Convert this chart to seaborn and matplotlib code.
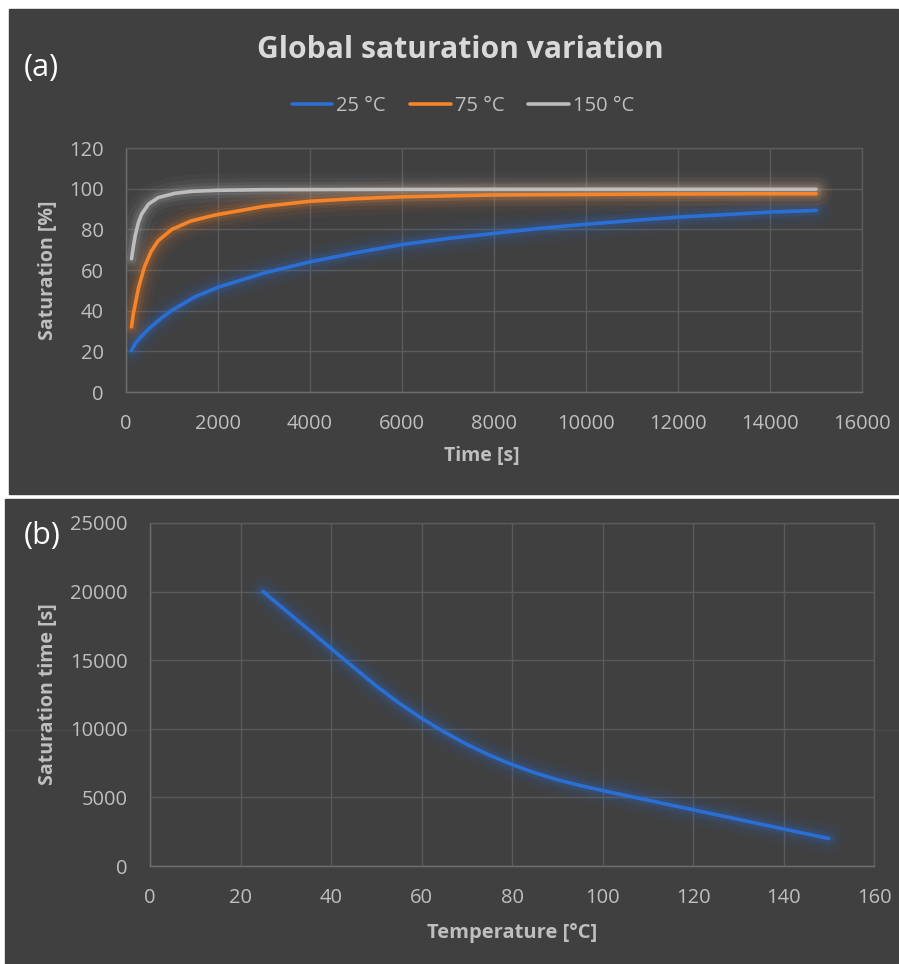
import pandas as pd
import numpy as np
import seaborn as sns
import matplotlib.pyplot as plt
from matplotlib.patches import Rectangle
from matplotlib.lines import Line2D

# (a) saturation vs time
time_25 = [120, 200, 300, 500, 750, 1000, 1500, 2000, 3000, 4000, 5000, 6000, 7000, 8000,
           9000, 10000, 11000, 12000, 13000, 14000, 15000]
sat_25 = [20.5, 23.8, 26.5, 31.2, 36, 40.2, 46.8, 51.5, 58.5, 64, 68.5, 72.5, 75.5, 78,
          80.5, 82.5, 84.3, 86, 87.2, 88.5, 89.3]

time_75 = [120, 160, 200, 270, 400, 550, 700, 1000, 1400, 1800, 2000, 3000, 4000, 5000,
           6000, 8000, 10000, 12000, 14000, 15000]
sat_75 = [32, 38.5, 43, 51, 61.5, 69.3, 74.4, 80, 84, 86.3, 87.3, 91.3, 93.8, 95.1,
          96, 96.9, 97.2, 97.4, 97.5, 97.5]

time_150 = [120, 140, 160, 200, 270, 340, 490, 700, 1060, 1430, 2000, 3000, 5000, 8000, 15000]
sat_150 = [65.5, 68.5, 71.5, 76.9, 83.4, 87.5, 92.4, 95.6, 97.7, 98.7, 99.2, 99.5, 99.6, 99.7, 99.7]

series_names = ['25 °C', '75 °C', '150 °C']
series_colors = ['#2A6FD4', '#F5842A', '#BDBDBD']

# (b) saturation time vs temperature
temp_b = [25, 30, 35, 40, 45, 50, 55, 60, 65, 70, 75, 80, 85, 90, 95, 100,
          105, 110, 115, 120, 125, 130, 135, 140, 145, 150]
sat_time_b = [20000, 18620, 17240, 15860, 14480, 13120, 11880, 10770, 9770, 8870, 8080, 7390,
              6800, 6290, 5870, 5500, 5150, 4800, 4450, 4100, 3750, 3400, 3050, 2700, 2350, 2000]

x_ticks_a = list(range(0, 16001, 2000))
y_ticks_a = list(range(0, 121, 20))
x_ticks_b = list(range(0, 161, 20))
y_ticks_b = list(range(0, 25001, 5000))

BG = '#404040'
GRID = '#5A5A5A'
TXT = '#BFBFBF'
GLOW = [(24, 0.04), (17, 0.06), (11, 0.09), (7, 0.14)]

df_a = pd.concat([
    pd.DataFrame({'time': time_25, 'sat': sat_25, 'temp': series_names[0]}),
    pd.DataFrame({'time': time_75, 'sat': sat_75, 'temp': series_names[1]}),
    pd.DataFrame({'time': time_150, 'sat': sat_150, 'temp': series_names[2]}),
])
df_b = pd.DataFrame({'temp': temp_b, 'sat_time': sat_time_b})
palette = dict(zip(series_names, series_colors))

sns.set_theme(style='darkgrid', rc={
    'axes.facecolor': BG, 'grid.color': GRID, 'grid.linewidth': 1.0,
    'axes.edgecolor': GRID, 'xtick.color': TXT, 'ytick.color': TXT,
    'axes.labelcolor': TXT, 'text.color': TXT,
})
plt.rcParams['font.family'] = ['Open Sans', 'DejaVu Sans']

W, H = 899, 964
fig = plt.figure(figsize=(W / 100, H / 100), dpi=100, facecolor='white')

# dark panels behind each chart
fig.patches.append(Rectangle((9 / W, 1 - 494 / H), (W - 10) / W, 485 / H,
                             transform=fig.transFigure, color=BG, zorder=-10))
fig.patches.append(Rectangle((5 / W, 1 - 963 / H), (W - 6) / W, 464 / H,
                             transform=fig.transFigure, color=BG, zorder=-10))
# faint seam across the lower panel
fig.lines.append(Line2D([5 / W, 1], [1 - 730 / H, 1 - 730 / H], transform=fig.transFigure,
                        color='#4A4A4A', lw=1, zorder=-5))


def px_axes(left, top, right, bottom):
    ax = fig.add_axes([left / W, 1 - bottom / H, (right - left) / W, (bottom - top) / H])
    ax.set_zorder(5)
    return ax


def style_axes(ax, xt, yt):
    ax.set_xticks(xt)
    ax.set_yticks(yt)
    ax.set_xlim(xt[0], xt[-1])
    ax.set_ylim(yt[0], yt[-1])
    ax.tick_params(axis='x', length=0, pad=16, labelsize=14.5, colors=TXT)
    ax.tick_params(axis='y', length=0, pad=16, labelsize=14.5, colors=TXT)
    for s in ax.spines.values():
        s.set_visible(True)
        s.set_color(GRID)
        s.set_linewidth(1.0)
    ax.spines['bottom'].set_color('#6E6E6E')
    ax.spines['left'].set_color('#6E6E6E')
    ax.set_axisbelow(True)


# ---- panel (a)
ax1 = px_axes(126, 148, 862, 392)
for name in series_names:
    sub = df_a[df_a['temp'] == name]
    for lw, a in GLOW:
        sns.lineplot(data=sub, x='time', y='sat', color=palette[name], lw=lw, alpha=a,
                     legend=False, ax=ax1, solid_capstyle='round')
sns.lineplot(data=df_a, x='time', y='sat', hue='temp', hue_order=series_names,
             palette=palette, lw=2.6, ax=ax1, solid_capstyle='round')
style_axes(ax1, x_ticks_a, y_ticks_a)
ax1.set_xlabel('Time [s]', fontsize=14, fontweight='bold', color=TXT)
ax1.set_ylabel('Saturation [%]', fontsize=14, fontweight='bold', color=TXT)
ax1.xaxis.label.set_va('center')
ax1.yaxis.label.set_va('center')
ax1.xaxis.set_label_coords((482 - 126) / 736, (392 - 456) / 244)
ax1.yaxis.set_label_coords((48 - 126) / 736, 0.5)

sns.move_legend(ax1, 'center', bbox_to_anchor=((463 - 126) / 736, (392 - 106) / 244),
                ncol=3, frameon=False, fontsize=14.5, handlelength=2.0,
                columnspacing=1.2, handletextpad=0.2, title=None)
leg = ax1.get_legend()
for t in leg.get_texts():
    t.set_color(TXT)
for ln in leg.get_lines():
    ln.set_linewidth(2.6)

fig.text(460 / W, 1 - 50 / H, 'Global saturation variation', ha='center', va='center',
         fontsize=21.7, fontweight='bold', color='#D9D9D9')
fig.text(41 / W, 1 - 68 / H, '(a)', ha='center', va='center', fontsize=22, color='white')

# ---- panel (b)
ax2 = px_axes(150, 523, 874, 866)
for lw, a in GLOW:
    sns.lineplot(data=df_b, x='temp', y='sat_time', color=series_colors[0], lw=lw, alpha=a,
                 legend=False, ax=ax2, solid_capstyle='round')
sns.lineplot(data=df_b, x='temp', y='sat_time', color=series_colors[0], lw=2.6, ax=ax2,
             solid_capstyle='round')
style_axes(ax2, x_ticks_b, y_ticks_b)
ax2.set_xlabel('Temperature [°C]', fontsize=14.5, fontweight='bold', color=TXT)
ax2.set_ylabel('Saturation time [s]', fontsize=14, fontweight='bold', color=TXT)
ax2.xaxis.label.set_va('center')
ax2.yaxis.label.set_va('center')
ax2.xaxis.set_label_coords(0.5, (866 - 933) / 343)
ax2.yaxis.set_label_coords((48 - 150) / 724, 0.5)

fig.text(42 / W, 1 - 536 / H, '(b)', ha='center', va='center', fontsize=22, color='white')

fig.savefig('out.png', dpi=100, facecolor='white')
